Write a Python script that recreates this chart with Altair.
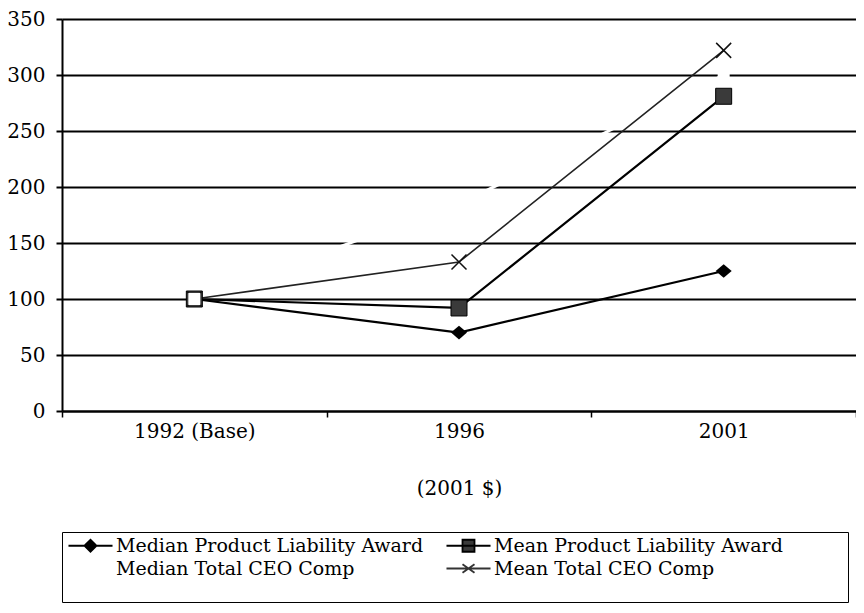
import altair as alt
import pandas as pd

years = ["1992 (Base)", "1996", "2001"]
median_award = [100, 70, 125]
mean_award = [100, 92, 281]
median_ceo = [100, 185, 300]
mean_ceo = [100, 133, 322]
series_names = [
    "Median Product Liability Award",
    "Mean Product Liability Award",
    "Median Total CEO Comp",
    "Mean Total CEO Comp",
]
# legend entries are laid out column by column
legend_order = [series_names[0], series_names[2], series_names[1], series_names[3]]
y_ticks = [0, 50, 100, 150, 200, 250, 300, 350]

rows = []
for name, vals in zip(series_names, [median_award, mean_award, median_ceo, mean_ceo]):
    for yr, v in zip(years, vals):
        rows.append({"year": yr, "value": v, "series": name})
df = pd.DataFrame(rows)

FONT = "DejaVu Serif"

x_enc = alt.X(
    "year:N", sort=years,
    scale=alt.Scale(paddingInner=0, paddingOuter=0),
    axis=alt.Axis(
        title="(2001 $)", labelAngle=0, tickBand="extent", grid=False,
        domainColor="black", domainWidth=2, tickColor="black", tickWidth=1.5, tickSize=6,
        labelFont=FONT, labelFontSize=20, labelColor="black", labelPadding=4,
        titleFont=FONT, titleFontSize=20, titleFontWeight="normal", titleColor="black",
        titlePadding=37,
    ),
)
y_enc = alt.Y(
    "value:Q",
    scale=alt.Scale(domain=[0, 350], nice=False),
    axis=alt.Axis(
        values=y_ticks, title=None, grid=True, gridColor="black", gridWidth=2, gridOpacity=1,
        domainColor="black", domainWidth=2, tickColor="black", tickWidth=2, tickSize=6,
        labelFont=FONT, labelFontSize=20, labelColor="black", labelPadding=11,
    ),
)

base = alt.Chart(df).encode(x=x_enc, y=y_enc)


def series(name):
    return base.transform_filter(alt.datum.series == name)


white_line = series(series_names[2]).mark_line(color="white", strokeWidth=3)
line_med = series(series_names[0]).mark_line(color="black", strokeWidth=2.2)
line_mean = series(series_names[1]).mark_line(color="black", strokeWidth=2.2)
line_meanceo = series(series_names[3]).mark_line(color="#222222", strokeWidth=1.6)

pts_med = series(series_names[0]).mark_point(
    shape="M-1,0L0,-0.85L1,0L0,0.85Z", size=256, filled=True, color="black", opacity=1
)
pts_mean = series(series_names[1]).mark_point(
    shape="square", size=256, filled=True, fill="#3a3a3a", stroke="black", strokeWidth=1, opacity=1
)
pts_meanceo = series(series_names[3]).mark_point(
    shape="M-1,-1L1,1M-1,1L1,-1", size=225, filled=False, color="#111111", strokeWidth=1.5, opacity=1
)
pts_medceo = series(series_names[2]).mark_point(
    shape="square", size=144, filled=True, color="white", strokeWidth=0, opacity=1
)

legend_paths = [
    "M-3.67,0H3.67M-1,0L0,-1L1,0L0,1Z",
    "M-3.67,0H3.67",
    "M-3.67,0H3.67M-1,-1H1V1H-1Z",
    "M-3.67,0H3.67M-1,-0.7L1,0.7M-1,0.7L1,-0.7",
]
legend_strokes = ["black", "white", "black", "#333333"]
legend_fills = ["black", "white", "#3a3a3a", "white"]

pad = "\u00a0" * 10 + "\u200b"
leg = alt.Legend(
    title=" ", titleOrient="bottom", titleFontSize=13, titlePadding=6,
    orient="none", legendX=0, legendY=513, columns=2, gridAlign="each",
    labelFont=FONT, labelFontSize=19, labelColor="black", labelLimit=0,
    labelExpr="datum.label == 'Mean Product Liability Award' ? datum.label + '" + pad + "' : datum.label",
    symbolSize=144, symbolStrokeWidth=1.8, symbolOpacity=1,
    symbolOffset=15, labelOffset=16,
    strokeColor="black", padding=4, columnPadding=18, rowPadding=3,
)

legend_layer = alt.Chart(df).transform_filter("false").mark_point(opacity=1).encode(
    x=x_enc, y=y_enc,
    shape=alt.Shape("series:N", scale=alt.Scale(domain=legend_order, range=legend_paths), legend=leg),
    stroke=alt.Stroke("series:N", scale=alt.Scale(domain=legend_order, range=legend_strokes), legend=leg),
    fill=alt.Fill("series:N", scale=alt.Scale(domain=legend_order, range=legend_fills), legend=leg),
)

chart = alt.layer(
    white_line, line_med, line_mean, line_meanceo,
    pts_med, pts_mean, pts_meanceo, pts_medceo, legend_layer,
).properties(
    width=794, height=392,
    autosize=alt.AutoSizeParams(type="none"),
    padding={"left": 54, "top": 11, "right": 0, "bottom": 194},
    background="white",
).configure_view(stroke=None)

chart.save("out.html", embed_options={"renderer": "svg", "actions": False})
